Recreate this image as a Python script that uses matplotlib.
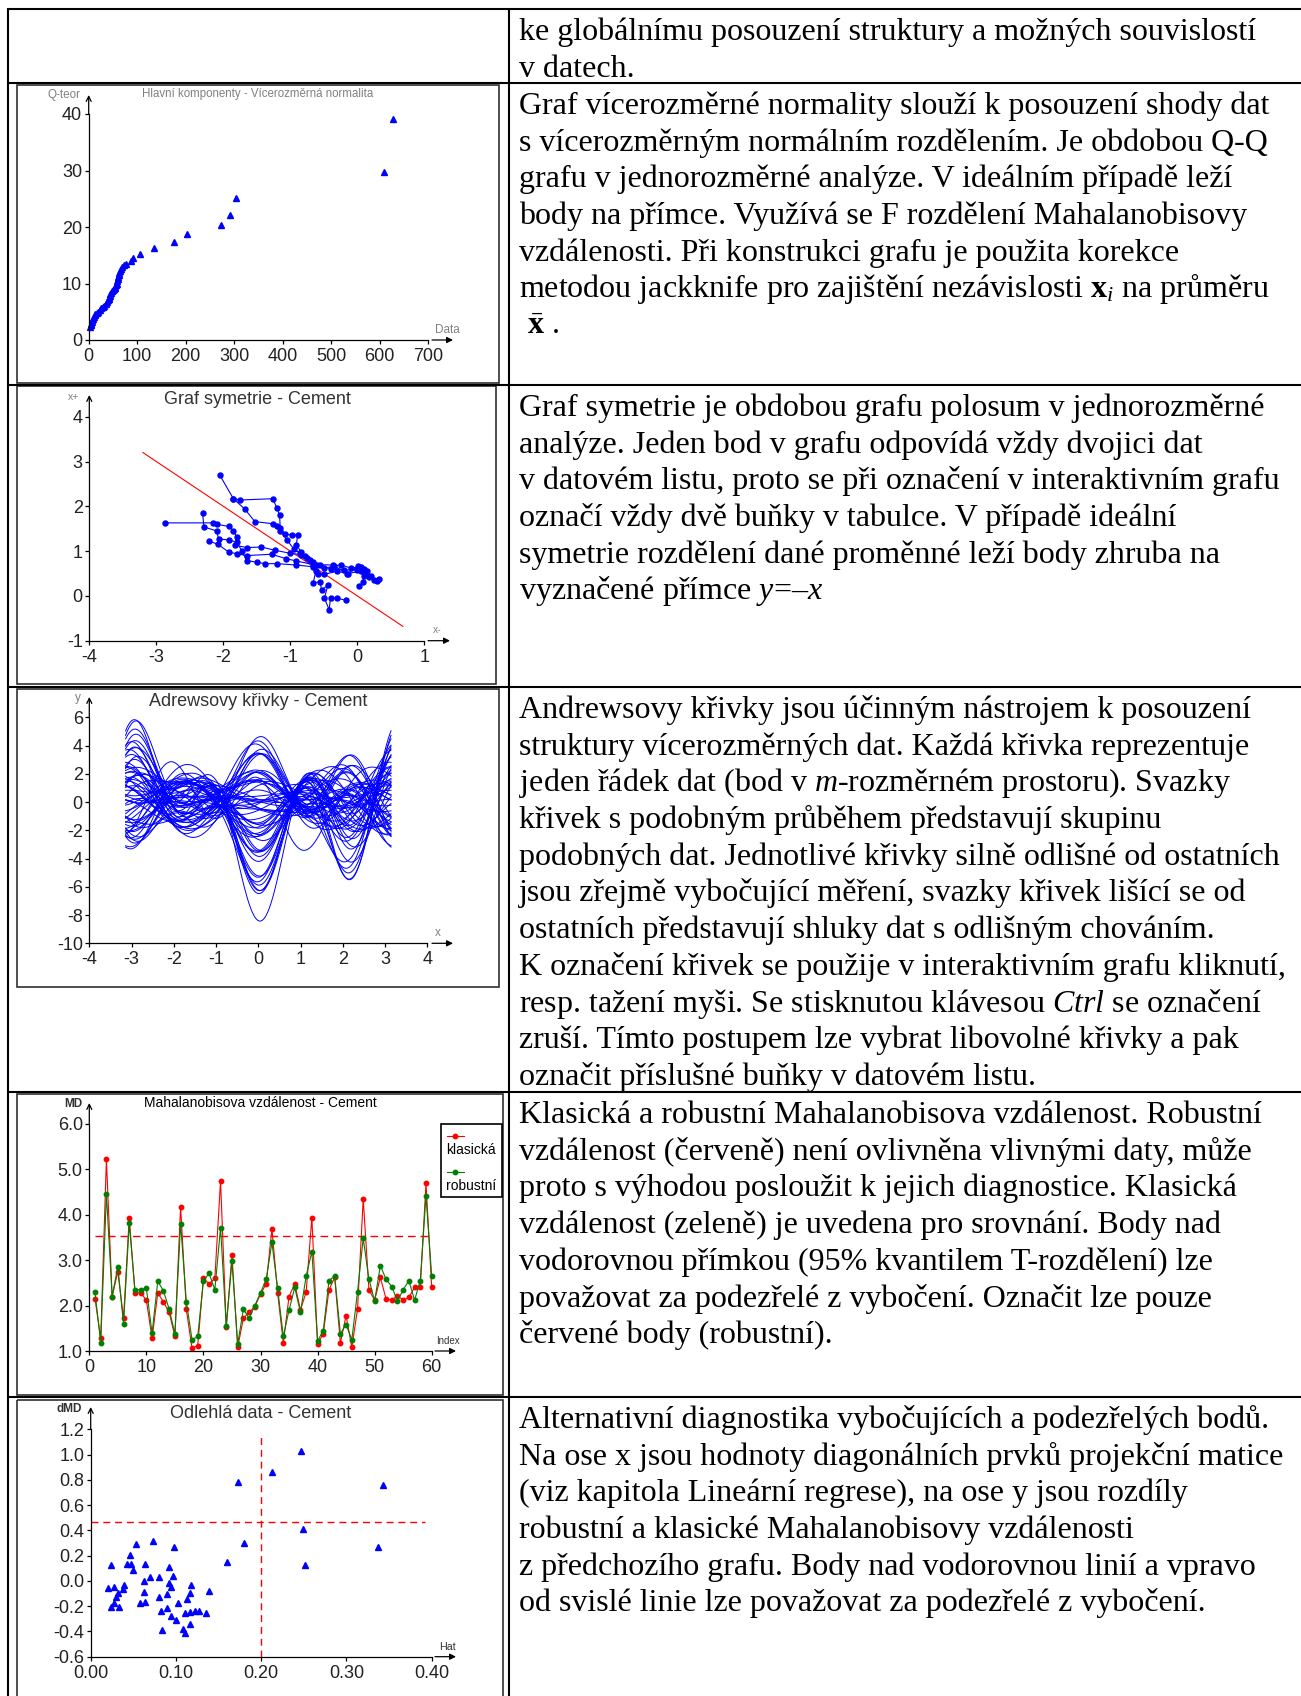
import numpy as np
import matplotlib
matplotlib.use("Agg")
import matplotlib.pyplot as plt
from matplotlib.patches import Rectangle
from matplotlib.ticker import FormatStrFormatter

plt.rcParams["font.family"] = ["Liberation Sans", "DejaVu Sans"]
plt.rcParams["axes.unicode_minus"] = False
plt.rcParams["mathtext.fontset"] = "custom"
plt.rcParams["mathtext.rm"] = "Liberation Serif"
plt.rcParams["mathtext.it"] = "Liberation Serif:italic"
plt.rcParams["mathtext.bf"] = "Liberation Serif:bold"

W, H = 1301, 1696

# --- Q-Q plot of multivariate normality ---
qq_data = [3, 4, 5, 6, 7, 8, 10, 12, 14, 17, 20, 23, 26, 29, 32, 35, 37, 39, 41, 42,
           43, 44, 46, 48, 50, 52, 54, 55, 56, 58, 59, 60, 61, 62, 63, 65, 67, 69, 72, 76,
           88, 92, 106, 135, 177, 202, 273, 291, 304, 609, 628]
qq_teor = [2.3, 2.6, 2.9, 3.2, 3.5, 3.8, 4.1, 4.4, 4.6, 4.8, 5.0, 5.3, 5.6, 5.9, 6.1, 6.4,
           6.7, 7.0, 7.2, 7.5, 7.8, 8.1, 8.4, 8.6, 8.8, 9.0, 9.2, 9.4, 9.7, 10.0, 10.4, 10.8,
           11.1, 11.5, 11.9, 12.3, 12.6, 13.0, 13.3, 13.5, 13.9, 14.6, 15.2, 16.3, 17.3, 18.7,
           20.3, 22.1, 25.1, 29.7, 39.2]

# --- symmetry plot: chains of (x-, x+) pairs ---
sym_chains = [
    [(-2.05, 2.69), (-1.85, 2.17), (-1.75, 2.14), (-1.26, 2.17), (-1.20, 1.96), (-1.16, 1.80),
     (-1.15, 1.51), (-1.08, 1.38), (-0.98, 1.36), (-0.89, 1.36), (-0.91, 1.14), (-0.84, 0.99),
     (-0.78, 0.88), (-0.66, 0.76), (-0.62, 0.55), (-0.66, 0.28), (-0.56, 0.32), (-0.53, 0.13),
     (-0.44, 0.24), (-0.49, -0.05), (-0.42, -0.31), (-0.40, -0.05), (-0.30, -0.05), (-0.17, -0.10)],
    [(-1.85, 2.17), (-1.68, 1.94), (-1.53, 1.66), (-1.26, 1.61), (-1.20, 1.55), (-1.15, 1.45),
     (-1.05, 1.25), (-0.95, 1.05), (-0.85, 0.95), (-0.75, 0.85), (-0.60, 0.70), (-0.50, 0.62),
     (-0.35, 0.66), (-0.25, 0.70), (-0.10, 0.62), (0.05, 0.65), (0.10, 0.60), (0.15, 0.55)],
    [(-2.87, 1.63), (-2.15, 1.63), (-2.10, 1.60), (-1.92, 1.55), (-1.85, 1.45), (-1.80, 1.32),
     (-1.82, 1.13), (-1.65, 1.08), (-1.43, 1.09), (-1.23, 1.02), (-1.00, 0.95), (-0.84, 0.92),
     (-0.70, 0.80), (-0.55, 0.68), (-0.40, 0.60), (-0.20, 0.58), (0.00, 0.58), (0.10, 0.45),
     (0.08, 0.30), (0.03, 0.21)],
    [(-2.31, 1.86), (-2.29, 1.54), (-2.10, 1.45), (-2.07, 1.27), (-1.92, 1.25), (-1.80, 1.20),
     (-1.72, 1.00), (-1.65, 0.79), (-1.50, 0.75), (-1.38, 0.72), (-1.20, 0.72), (-0.91, 0.69),
     (-0.66, 0.65), (-0.58, 0.50), (-0.50, 0.48), (-0.30, 0.55), (-0.15, 0.50), (0.05, 0.55),
     (0.12, 0.50), (0.20, 0.45)],
    [(-2.22, 1.23), (-2.08, 1.15), (-1.92, 0.98), (-1.80, 0.94), (-1.65, 0.90), (-1.28, 0.93),
     (-1.06, 0.83), (-0.91, 0.78), (-0.66, 0.70), (-0.37, 0.69), (-0.14, 0.50), (0.01, 0.67),
     (0.07, 0.58), (0.17, 0.43), (0.25, 0.36), (0.32, 0.38), (0.30, 0.34)],
]
sym_line = [(-3.2, 3.2), (0.68, -0.68)]

# --- Andrews curves: data rows (7 variables each) ---
andrews_rows = [
    [-1.55, -1.40, -3.06, 1.48, -0.58, -1.04, -3.66],
    [-0.97, -1.63, -2.55, 1.88, -0.19, -0.87, -3.05],
    [-0.78, -0.74, -2.18, 1.07, -0.91, -0.74, -2.62],
    [-1.25, -1.20, -2.11, 1.73, 0.20, -0.72, -2.53],
    [-0.63, -0.75, -2.00, 0.67, -1.38, -0.68, -2.40],
    [-0.74, -1.39, -1.89, 1.40, 0.84, -0.64, -2.27],
    [-1.40, -0.85, -1.82, 1.66, -0.65, -0.62, -2.18],
    [-0.30, -0.39, -1.71, 0.60, 0.48, -0.58, -2.05],
    [-0.93, -1.04, -1.60, 1.13, -1.70, -0.55, -1.92],
    [-0.02, -0.48, -1.49, 0.27, -0.08, -0.51, -1.79],
    [-0.71, -1.22, -1.38, 1.21, 1.24, -0.47, -1.66],
    [-0.51, -0.47, -1.27, 0.84, -1.04, -0.43, -1.53],
    [-0.92, -0.21, -1.16, 0.38, -2.02, -0.40, -1.40],
    [0.19, -0.87, -1.09, 1.14, 0.79, -0.37, -1.31],
    [-0.99, -0.41, -0.98, 0.07, 0.21, -0.33, -1.18],
    [-0.24, -0.66, -0.87, 1.11, -1.37, -0.30, -1.05],
    [0.10, 0.08, -0.80, 0.27, 1.85, -0.27, -0.96],
    [0.41, -0.78, -0.73, 0.72, -0.54, -0.25, -0.87],
    [-0.24, -0.04, -0.66, -0.22, 1.18, -0.22, -0.78],
    [-0.36, -0.39, -0.55, 0.72, -2.10, -0.19, -0.65],
    [0.59, -0.05, -0.47, 0.18, 0.61, -0.16, -0.57],
    [-0.79, -0.69, -0.36, 0.71, -1.07, -0.12, -0.44],
    [0.60, 0.25, -0.29, -0.23, 1.75, -0.10, -0.35],
    [-0.40, -0.01, -0.22, 0.73, -1.64, -0.07, -0.26],
    [0.77, -0.38, -0.15, -0.22, -0.03, -0.05, -0.17],
    [0.10, 0.26, -0.07, 0.24, 2.29, -0.02, -0.09],
    [0.15, -0.20, 0.00, 0.50, -2.30, 0.00, 0.00],
    [0.38, 0.54, 0.07, -0.54, 1.11, 0.02, 0.09],
    [0.95, -0.32, 0.15, 0.22, -0.57, 0.05, 0.17],
    [-0.02, 0.31, 0.22, -0.33, 1.64, 0.07, 0.26],
    [0.18, 0.15, 0.29, 0.43, -1.35, 0.10, 0.35],
    [0.98, -0.11, 0.36, -0.61, 0.57, 0.12, 0.44],
    [-0.16, 0.63, 0.44, -0.15, -2.02, 0.15, 0.52],
    [1.07, 0.17, 0.51, -0.90, 2.20, 0.17, 0.61],
    [-0.02, 0.60, 0.58, 0.06, -0.09, 0.20, 0.70],
    [1.35, -0.16, 0.66, -0.18, 1.02, 0.22, 0.78],
    [0.31, 0.58, 0.73, -0.72, -0.96, 0.25, 0.87],
    [0.52, 0.52, 0.80, 0.03, 1.55, 0.27, 0.96],
    [0.90, 0.08, 0.91, -0.63, -0.53, 0.31, 1.09],
    [0.63, 0.83, 1.02, -1.09, 0.79, 0.35, 1.22],
    [0.71, 0.37, 1.09, -0.34, -1.29, 0.37, 1.31],
    [0.38, 1.03, 1.20, -0.90, 0.53, 0.41, 1.44],
    [0.88, 0.38, 1.31, -0.16, -0.15, 0.45, 1.57],
    [0.92, 0.86, 1.46, -1.25, 0.48, 0.50, 1.74],
    [1.10, 1.04, 1.60, -0.73, 0.30, 0.55, 1.92],
    [-0.91, 0.29, -0.40, -0.27, -0.08, -0.14, -0.48],
    [1.22, -0.50, -0.18, 0.51, 0.97, -0.06, -0.22],
    [-0.83, 0.36, 0.11, -0.66, -0.18, 0.04, 0.13],
    [0.40, -0.30, 0.20, 0.40, -0.60, 0.15, 0.10],
    [-0.30, 0.45, -0.25, -0.30, 0.80, -0.20, -0.30],
    [0.60, 0.20, -0.40, 0.55, 0.30, 0.10, -0.45],
    [-0.50, -0.45, 0.35, -0.20, -0.90, 0.25, 0.40],
    [0.20, 0.35, -0.60, 0.30, -0.40, -0.30, -0.70],
    [0.85, -0.20, 0.50, -0.45, 0.60, 0.20, 0.55],
    [-0.10, 0.60, -0.90, 0.70, 0.20, -0.35, -1.00],
    [0.30, -0.55, 0.70, -0.60, -0.30, 0.30, 0.80],
    [-0.70, 0.10, -0.30, 0.15, 1.30, -0.10, -0.35],
    [0.50, -0.10, 0.15, -0.70, -1.10, 0.05, 0.20],
    [-0.40, -1.30, 0.00, 0.00, 0.00, 0.00, 2.00],
]

# --- Mahalanobis distance, index 1..60 ---
md_index = list(range(1, 61))
md_klasicka = [2.15, 1.28, 5.22, 2.20, 2.75, 1.72, 3.94, 2.28, 2.28, 2.12,
               1.28, 2.28, 2.08, 1.85, 1.32, 4.18, 1.92, 1.06, 1.12, 2.60,
               2.48, 2.60, 4.75, 1.52, 3.11, 1.08, 1.72, 1.85, 1.98, 2.25,
               2.48, 3.69, 2.28, 1.18, 2.20, 2.48, 1.90, 2.30, 3.94, 1.15,
               1.38, 2.35, 2.62, 1.18, 1.78, 1.08, 1.92, 4.35, 2.35, 2.12,
               2.62, 2.15, 2.12, 2.22, 2.12, 2.18, 2.40, 2.40, 4.69, 2.40]
md_robustni = [2.29, 1.18, 4.46, 2.20, 2.86, 1.59, 3.81, 2.35, 2.35, 2.38,
               1.39, 2.54, 2.32, 1.92, 1.38, 3.80, 2.09, 1.25, 1.32, 2.55,
               2.71, 2.35, 3.72, 1.55, 2.98, 1.15, 1.92, 1.72, 2.00, 2.28,
               2.58, 3.39, 2.38, 1.32, 1.90, 2.40, 1.85, 2.65, 3.19, 1.22,
               1.45, 2.55, 2.65, 1.38, 1.58, 1.25, 2.30, 3.48, 2.58, 2.10,
               2.88, 2.58, 2.42, 2.10, 2.35, 2.55, 2.12, 2.55, 4.42, 2.65]
md_limit = 3.53

# --- outliers: hat vs dMD ---
hat = [0.247, 0.213, 0.173, 0.343, 0.249, 0.180, 0.337, 0.160, 0.251,
       0.073, 0.053, 0.098, 0.046, 0.024, 0.043, 0.047, 0.050, 0.064, 0.092,
       0.069, 0.080, 0.097, 0.062, 0.092, 0.094, 0.118, 0.020, 0.027, 0.039,
       0.038, 0.032, 0.030, 0.063, 0.139, 0.117, 0.089, 0.080, 0.113, 0.102,
       0.058, 0.064, 0.027, 0.024, 0.033, 0.089, 0.082, 0.111, 0.117, 0.122,
       0.127, 0.135, 0.094, 0.100, 0.116, 0.084, 0.108, 0.111]
dmd = [1.031, 0.865, 0.780, 0.757, 0.408, 0.303, 0.266, 0.147, 0.123,
       0.316, 0.290, 0.266, 0.205, 0.123, 0.136, 0.136, 0.086, 0.134, 0.110,
       0.028, 0.028, 0.039, 0.002, -0.019, -0.051, -0.032, -0.056, -0.046, -0.032,
       -0.067, -0.098, -0.130, -0.090, -0.080, -0.093, -0.104, -0.125, -0.140, -0.172,
       -0.172, -0.164, -0.178, -0.204, -0.204, -0.217, -0.236, -0.252, -0.244, -0.238,
       -0.238, -0.257, -0.278, -0.310, -0.344, -0.389, -0.381, -0.415]
hat_limit = 0.20
dmd_limit = 0.464

# --- text column ---
text_rows = [
    (9, ["ke globálnímu posouzení struktury a možných souvislostí",
         "v datech."]),
    (83, ["Graf vícerozměrné normality slouží k posouzení shody dat",
          "s vícerozměrným normálním rozdělením. Je obdobou Q-Q",
          "grafu v jednorozměrné analýze. V ideálním případě leží",
          "body na přímce. Využívá se F rozdělení Mahalanobisovy",
          "vzdálenosti. Při konstrukci grafu je použita korekce",
          r"metodou jackknife pro zajištění nezávislosti $\mathbf{x}_{i}$ na průměru",
          r" $\bar{\mathbf{x}}$ ."]),
    (385, ["Graf symetrie je obdobou grafu polosum v jednorozměrné",
           "analýze. Jeden bod v grafu odpovídá vždy dvojici dat",
           "v datovém listu, proto se při označení v interaktivním grafu",
           "označí vždy dvě buňky v tabulce. V případě ideální",
           "symetrie rozdělení dané proměnné leží body zhruba na",
           "vyznačené přímce $y$=–$x$"]),
    (687, ["Andrewsovy křivky jsou účinným nástrojem k posouzení",
           "struktury vícerozměrných dat. Každá křivka reprezentuje",
           "jeden řádek dat (bod v $m$-rozměrném prostoru). Svazky",
           "křivek s podobným průběhem představují skupinu",
           "podobných dat. Jednotlivé křivky silně odlišné od ostatních",
           "jsou zřejmě vybočující měření, svazky křivek lišící se od",
           "ostatních představují shluky dat s odlišným chováním.",
           "K označení křivek se použije v interaktivním grafu kliknutí,",
           r"resp. tažení myši. Se stisknutou klávesou $\mathit{Ctrl}$ se označení",
           "zruší. Tímto postupem lze vybrat libovolné křivky a pak",
           "označit příslušné buňky v datovém listu."]),
    (1092, ["Klasická a robustní Mahalanobisova vzdálenost. Robustní",
            "vzdálenost (červeně) není ovlivněna vlivnými daty, může",
            "proto s výhodou posloužit k jejich diagnostice. Klasická",
            "vzdálenost (zeleně) je uvedena pro srovnání. Body nad",
            "vodorovnou přímkou (95% kvantilem T-rozdělení) lze",
            "považovat za podezřelé z vybočení. Označit lze pouze",
            "červené body (robustní)."]),
    (1397, ["Alternativní diagnostika vybočujících a podezřelých bodů.",
            "Na ose x jsou hodnoty diagonálních prvků projekční matice",
            "(viz kapitola Lineární regrese), na ose y jsou rozdíly",
            "robustní a klasické Mahalanobisovy vzdálenosti",
            "z předchozího grafu. Body nad vodorovnou linií a vpravo",
            "od svislé linie lze považovat za podezřelé z vybočení."]),
]

BLUE = "#0000ff"
RED = "#ff0000"
GREEN = "#008000"
GRAY = "#808080"
DARK = "#222222"

fig = plt.figure(figsize=(W / 100, H / 100), dpi=100)
page = fig.add_axes([0, 0, 1, 1])
page.set_xlim(0, W)
page.set_ylim(H, 0)
page.axis("off")

# table grid
for y in [9, 83, 385, 687, 1092, 1397]:
    page.plot([7, W], [y, y], color="black", lw=1.5, solid_capstyle="butt")
for x in [7.5, 509]:
    page.plot([x, x], [9, H], color="black", lw=1.5, solid_capstyle="butt")

# image frames in the left column
for x0, y0, x1, y1 in [(17, 85, 499, 383), (17, 386, 496, 684), (17, 689, 499, 987),
                       (17, 1094, 503, 1395), (17, 1400, 503, 1700)]:
    page.add_patch(Rectangle((x0, y0), x1 - x0, y1 - y0, fill=False, ec="#303030", lw=1.2))

for top, lines in text_rows:
    for i, s in enumerate(lines):
        page.text(519, top + 31 + i * 36.7, s, fontsize=23, family="Liberation Serif",
                  va="baseline", ha="left", color="black")


def chart(x0, x1, ytop, ybot, xlim, ylim, xticks, yticks, ytip, xarrow):
    ax = fig.add_axes([x0 / W, 1 - ybot / H, (x1 - x0) / W, (ybot - ytop) / H])
    ax.patch.set_alpha(0)
    ax.set_xlim(*xlim)
    ax.set_ylim(*ylim)
    ax.spines[["top", "right"]].set_visible(False)
    ax.spines[["left", "bottom"]].set_linewidth(0.9)
    ax.set_xticks(xticks)
    ax.set_yticks(yticks)
    ax.tick_params(direction="out", length=3.2, width=0.9, labelsize=13,
                   labelcolor=DARK, pad=1.5)
    ax.tick_params(axis="x", pad=2.5)
    arrow = dict(lw=0.9, color="black", shrinkA=0, shrinkB=0, mutation_scale=9)
    page.annotate("", xy=(x0, ytip), xytext=(x0, ytop), arrowprops=dict(arrowstyle="->", **arrow))
    page.annotate("", xy=(xarrow[1], ybot), xytext=(xarrow[0], ybot),
                  arrowprops=dict(arrowstyle="-|>", **arrow))
    return ax


# 1) multivariate normality
ax1 = chart(88.7, 428, 114, 340, (0, 700), (0, 40), range(0, 701, 100), range(0, 41, 10),
            95, (432, 453))
ax1.plot(qq_data, qq_teor, "^", color=BLUE, ms=5, mec=BLUE, clip_on=False)
page.text(258, 94, "Hlavní komponenty - Vícerozměrná normalita", fontsize=8.3, color=GRAY,
          ha="center", va="center")
page.text(81, 95, "Q-teor", fontsize=8.4, color=GRAY, ha="right", va="center")
page.text(447, 330, "Data", fontsize=8.5, color=GRAY, ha="center", va="center")

# 2) symmetry plot
ax2 = chart(89.3, 424.3, 416.7, 640.7, (-4, 1), (-1, 4), range(-4, 2), range(-1, 5),
            395, (428, 450))
ax2.plot([p[0] for p in sym_line], [p[1] for p in sym_line], color=RED, lw=0.8)
for chain in sym_chains:
    ax2.plot([p[0] for p in chain], [p[1] for p in chain], "-o", color=BLUE, lw=0.8, ms=3.6,
             clip_on=False)
page.text(257, 399, "Graf symetrie - Cement", fontsize=13, color="#333333", ha="center", va="center")
page.text(74, 397, "x+", fontsize=7.5, color=GRAY, ha="center", va="center")
page.text(437, 630, "x-", fontsize=7.5, color=GRAY, ha="center", va="center")

# 3) Andrews curves
ax3 = chart(89.3, 427.3, 717.3, 943.3, (-4, 4), (-10, 6), range(-4, 5), range(-10, 7, 2),
            697, (432, 453))
t = np.linspace(-np.pi, np.pi, 300)
for row in andrews_rows:
    f = row[0] / np.sqrt(2) * np.ones_like(t)
    for j in range(1, len(row)):
        k = (j + 1) // 2
        f = f + row[j] * (np.sin(k * t) if j % 2 == 1 else np.cos(k * t))
    ax3.plot(t, f, color=BLUE, lw=0.7)
page.text(258, 701, "Adrewsovy křivky - Cement", fontsize=13, color="#333333", ha="center", va="center")
page.text(78, 698, "y", fontsize=8.5, color=GRAY, ha="center", va="center")
page.text(438, 933, "x", fontsize=8.5, color=GRAY, ha="center", va="center")

# 4) Mahalanobis distance
ax4 = chart(89.3, 431.7, 1124, 1351, (0, 60), (1, 6), range(0, 61, 10),
            [1, 2, 3, 4, 5, 6], 1103, (435, 456))
ax4.yaxis.set_major_formatter(FormatStrFormatter("%.1f"))
ax4.plot([1, 60], [md_limit, md_limit], color=RED, lw=1.0, dashes=(5.5, 3.5))
ax4.plot(md_index, md_klasicka, "-o", color=RED, lw=0.8, ms=3.2, clip_on=False)
ax4.plot(md_index, md_robustni, "-o", color=GREEN, lw=0.8, ms=3.2, clip_on=False)
page.text(260, 1103, "Mahalanobisova vzdálenost - Cement", fontsize=10, color="black",
          ha="center", va="center")
page.text(73, 1104, "MD", fontsize=8.5, color="#333333", ha="center", va="center", weight="bold")
page.text(448, 1341, "Index", fontsize=7, color="#333333", ha="center", va="center")
page.add_patch(Rectangle((440.7, 1124), 61, 73, fc="white", ec="black", lw=1.2, zorder=3))
for yy, ty, col, lab in [(1135.7, 1150, RED, "klasická"), (1172.3, 1185.7, GREEN, "robustní")]:
    page.plot([446.7, 464], [yy, yy], color=col, lw=0.8, zorder=4)
    page.plot([455.3], [yy], "o", color=col, ms=3.2, zorder=4)
    page.text(446, ty, lab, fontsize=10, color="black", ha="left", va="center", zorder=4)

# 5) outliers
ax5 = chart(90.7, 431.7, 1429.3, 1656.7, (0, 0.4), (-0.6, 1.2), [0, 0.1, 0.2, 0.3, 0.4],
            np.arange(-0.6, 1.21, 0.2), 1407, (435, 456))
ax5.xaxis.set_major_formatter(FormatStrFormatter("%.2f"))
ax5.yaxis.set_major_formatter(FormatStrFormatter("%.1f"))
ax5.plot([0, 0.392], [dmd_limit, dmd_limit], color=RED, lw=1.0, dashes=(5, 3.5))
ax5.plot([hat_limit, hat_limit], [-0.6, 1.17], color=RED, lw=1.0, dashes=(5, 3.5))
ax5.plot(hat, dmd, "^", color=BLUE, ms=5, mec=BLUE, clip_on=False)
page.text(261, 1413, "Odlehlá data - Cement", fontsize=13, color="#333333", ha="center", va="center")
page.text(69, 1409, "dMD", fontsize=8.5, color="#333333", ha="center", va="center", weight="bold")
page.text(448, 1647, "Hat", fontsize=7.7, color="#333333", ha="center", va="center")

fig.savefig("out.png", dpi=100)
